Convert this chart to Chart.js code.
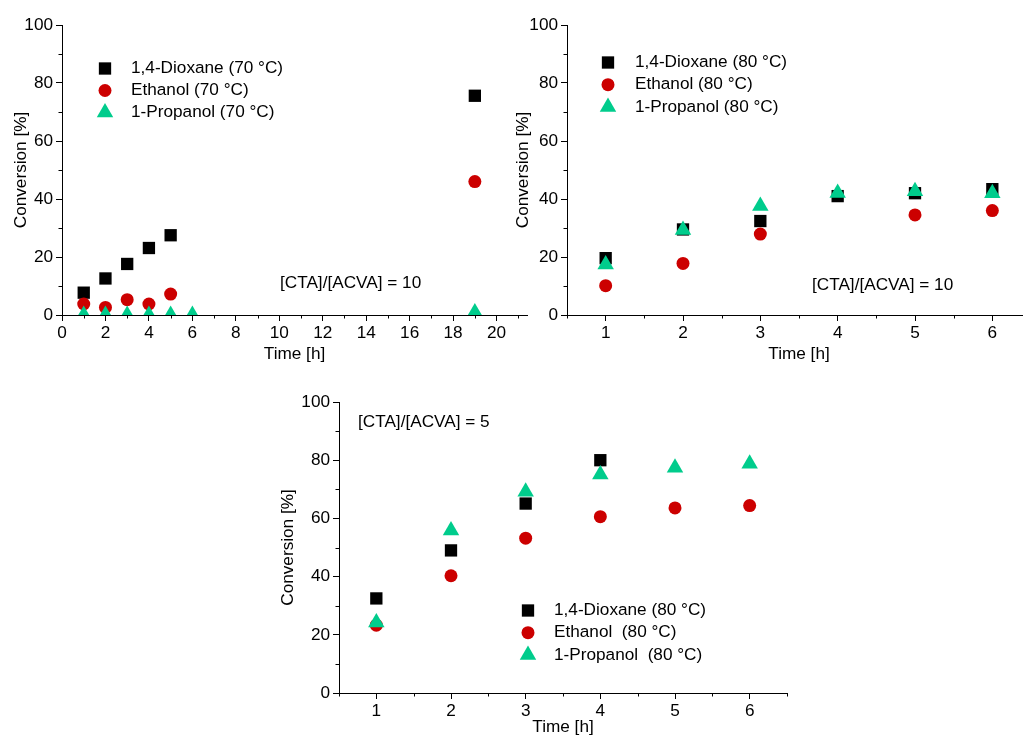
<!DOCTYPE html>
<html>
<head>
<meta charset="utf-8">
<title>Conversion vs time</title>
<script src="https://cdn.jsdelivr.net/npm/chart.js@4.4.1/dist/chart.umd.min.js"></script>
<style>
    html, body { margin: 0; padding: 0; background: #fff; width: 1023px; height: 736px; overflow: hidden; position: relative; }
    canvas { position: absolute; }
    #chartA { left: 0; top: 10px; }
    #chartB { left: 505px; top: 10px; }
    #chartC { left: 277px; top: 387px; }
</style>
</head>
<body>
<canvas id="chartA" width="537" height="355"></canvas>
<canvas id="chartB" width="536" height="355"></canvas>
<canvas id="chartC" width="520" height="356"></canvas>
<script>
// shared axis values
const yTicks = [0, 20, 40, 60, 80, 100];
const yMinor = [10, 30, 50, 70, 90];
const hourTicks = [1, 2, 3, 4, 5, 6];
const hourMinor = [0.5, 1.5, 2.5, 3.5, 4.5, 5.5, 6.5];

// panel A: 70 °C, [CTA]/[ACVA] = 10
const timeTicksA = [0, 2, 4, 6, 8, 10, 12, 14, 16, 18, 20];
const timeMinorA = [1, 3, 5, 7, 9, 11, 13, 15, 17, 19, 21];
const dioxaneTimeA = [1, 2, 3, 4, 5, 19];
const dioxaneA = [7.7, 12.6, 17.6, 23.1, 27.5, 75.6];
const ethanolTimeA = [1, 2, 3, 4, 5, 19];
const ethanolA = [3.8, 2.6, 5.3, 3.8, 7.2, 46.0];
const propanolTimeA = [1, 2, 3, 4, 5, 6, 19];
const propanolA = [0, 0, 0, 0, 0, 0, 0.9];
const labelsA = ['1,4-Dioxane (70 °C)', 'Ethanol (70 °C)', '1-Propanol (70 °C)'];

// panel B: 80 °C, [CTA]/[ACVA] = 10
const dioxaneTimeB = [1, 2, 3, 4, 5, 6];
const dioxaneB = [19.6, 29.5, 32.4, 41.0, 42.0, 43.4];
const ethanolTimeB = [1, 2, 3, 5, 6];
const ethanolB = [10.1, 17.8, 27.9, 34.5, 36.0];
const propanolTimeB = [1, 2, 3, 4, 5, 6];
const propanolB = [17.4, 29.3, 37.6, 42.1, 42.7, 42.0];
const labelsB = ['1,4-Dioxane (80 °C)', 'Ethanol (80 °C)', '1-Propanol (80 °C)'];

// panel C: 80 °C, [CTA]/[ACVA] = 5
const dioxaneTimeC = [1, 2, 3, 4];
const dioxaneC = [32.5, 49.0, 65.1, 80.0];
const ethanolTimeC = [1, 2, 3, 4, 5, 6];
const ethanolC = [23.3, 40.3, 53.2, 60.6, 63.6, 64.4];
const propanolTimeC = [1, 2, 3, 4, 5, 6];
const propanolC = [24.2, 55.8, 69.2, 75.1, 77.4, 78.8];
const labelsC = ['1,4-Dioxane (80 °C)', 'Ethanol  (80 °C)', '1-Propanol  (80 °C)'];

const FONT = '"Liberation Sans", Arial, sans-serif';
const FONT_SIZE = 17.2;
const BLACK = '#000000';
const RED = '#cc0000';
const GREEN = '#00cc8c';

Chart.defaults.font.family = FONT;
Chart.defaults.font.size = FONT_SIZE;
Chart.defaults.color = BLACK;

// scatter series from two arrays
function series(label, xs, ys, style, color, radius, order) {
    return {
        label: label,
        order: order,
        data: xs.map((x, i) => ({ x: x, y: ys[i] })),
        showLine: false,
        pointStyle: style,
        pointRadius: radius,
        pointHoverRadius: radius,
        pointBackgroundColor: color,
        pointBorderColor: color,
        pointBorderWidth: 0,
        backgroundColor: color,
        borderColor: color,
        clip: { left: false, top: false, right: false, bottom: 0 }
    };
}

function axis(title, min, max, ticks, titlePadding, isX) {
    return {
        type: 'linear',
        min: min,
        max: max,
        bounds: 'data',
        afterBuildTicks: s => { s.ticks = ticks.map(v => ({ value: v })); },
        afterFit: s => { if (isX) s.height = 50; else s.width = 62; },
        ticks: { color: BLACK, padding: isX ? 2 : 3, autoSkip: false, maxRotation: 0, callback: v => String(v) },
        grid: { drawOnChartArea: false, drawTicks: true, tickLength: 6, color: BLACK, lineWidth: 1 },
        border: { display: true, color: BLACK, width: 1 },
        title: { display: true, text: title, color: BLACK, padding: titlePadding }
    };
}

// minor ticks, legend and note
const decor = {
    id: 'decor',
    afterDraw(chart, args, opts) {
        const { ctx, chartArea: a, scales } = chart;
        ctx.save();
        ctx.strokeStyle = BLACK;
        ctx.lineWidth = 1;
        ctx.beginPath();
        opts.xMinor.forEach(v => {
            const px = Math.round(scales.x.getPixelForValue(v)) + 0.5;
            ctx.moveTo(px, a.bottom);
            ctx.lineTo(px, a.bottom + 3.5);
        });
        opts.yMinor.forEach(v => {
            const py = Math.round(scales.y.getPixelForValue(v)) + 0.5;
            ctx.moveTo(a.left, py);
            ctx.lineTo(a.left - 3.5, py);
        });
        ctx.stroke();

        ctx.font = FONT_SIZE + 'px ' + FONT;
        ctx.textBaseline = 'middle';
        ctx.textAlign = 'left';
        chart.data.datasets.forEach((ds, i) => {
            const mx = a.left + opts.legend.x;
            const my = a.top + opts.legend.y + i * opts.legend.gap;
            ctx.fillStyle = ds.pointBackgroundColor;
            Chart.helpers.drawPoint(ctx, { pointStyle: ds.pointStyle, radius: ds.pointRadius, rotation: 0, borderWidth: 0 }, mx, my);
            ctx.fillStyle = BLACK;
            ctx.fillText(ds.label, mx + opts.legend.textGap, my);
        });
        ctx.fillStyle = BLACK;
        ctx.fillText(opts.note, a.left + opts.noteAt.x, a.top + opts.noteAt.y);
        ctx.restore();
    }
};

function makePanel(id, datasets, xCfg, yTitlePad, xTitlePad, decorOpts) {
    return new Chart(document.getElementById(id), {
        type: 'scatter',
        data: { datasets: datasets },
        options: {
            responsive: false,
            animation: false,
            events: [],
            layout: { padding: { left: 0, top: 15, right: 10, bottom: 0 } },
            scales: {
                x: axis('Time [h]', xCfg.min, xCfg.max, xCfg.ticks, { bottom: xTitlePad }, true),
                y: axis('Conversion [%]', 0, 100, yTicks, { top: yTitlePad }, false)
            },
            plugins: {
                legend: { display: false },
                tooltip: { enabled: false },
                decor: decorOpts
            }
        },
        plugins: [decor]
    });
}

makePanel('chartA', [
    series(labelsA[0], dioxaneTimeA, dioxaneA, 'rect', BLACK, 8.7, 3),
    series(labelsA[1], ethanolTimeA, ethanolA, 'circle', RED, 6.5, 2),
    series(labelsA[2], propanolTimeA, propanolA, 'triangle', GREEN, 9.5, 1)
], { min: 0, max: 21.4, ticks: timeTicksA }, 11, 0, {
    xMinor: timeMinorA, yMinor: yMinor,
    legend: { x: 43, y: 43.5, gap: 22, textGap: 26 },
    note: '[CTA]/[ACVA] = 10', noteAt: { x: 218, y: 258.5 }
});

makePanel('chartB', [
    series(labelsB[0], dioxaneTimeB, dioxaneB, 'rect', BLACK, 8.7, 3),
    series(labelsB[1], ethanolTimeB, ethanolB, 'circle', RED, 6.5, 2),
    series(labelsB[2], propanolTimeB, propanolB, 'triangle', GREEN, 9.5, 1)
], { min: 0.5, max: 6.5, ticks: hourTicks }, 8, 0, {
    xMinor: hourMinor, yMinor: yMinor,
    legend: { x: 41, y: 37.5, gap: 22.2, textGap: 27 },
    note: '[CTA]/[ACVA] = 10', noteAt: { x: 245, y: 260.5 }
});

makePanel('chartC', [
    series(labelsC[0], dioxaneTimeC, dioxaneC, 'rect', BLACK, 8.7, 3),
    series(labelsC[1], ethanolTimeC, ethanolC, 'circle', RED, 6.5, 2),
    series(labelsC[2], propanolTimeC, propanolC, 'triangle', GREEN, 9.5, 1)
], { min: 0.5, max: 6.5, ticks: hourTicks }, 1, 5, {
    xMinor: hourMinor, yMinor: yMinor,
    legend: { x: 189, y: 208.5, gap: 22.2, textGap: 26 },
    note: '[CTA]/[ACVA] = 5', noteAt: { x: 19, y: 20.5 }
});
</script>
</body>
</html>
